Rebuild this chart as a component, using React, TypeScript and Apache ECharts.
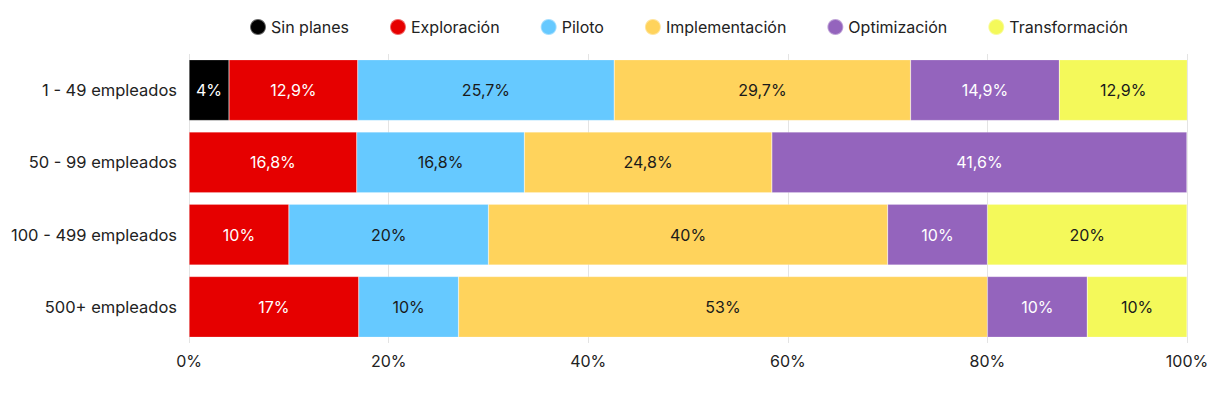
import React, { useEffect, useRef } from "react";
import * as echarts from "echarts";

const categories = ["1 - 49 empleados", "50 - 99 empleados", "100 - 499 empleados", "500+ empleados"];
const seriesNames = ["Sin planes", "Exploración", "Piloto", "Implementación", "Optimización", "Transformación"];
const sinPlanes = [4, 0, 0, 0];
const exploracion = [12.9, 16.8, 10, 17];
const piloto = [25.7, 16.8, 20, 10];
const implementacion = [29.7, 24.8, 40, 53];
const optimizacion = [14.9, 41.6, 10, 10];
const transformacion = [12.9, 0, 20, 10];
const xTicks = [0, 20, 40, 60, 80, 100];

const colors = ["#000000", "#e60000", "#66c9ff", "#ffd35c", "#9464bd", "#f4f95a"];
const labelColors = ["#ffffff", "#ffffff", "#1a1a1a", "#1a1a1a", "#ffffff", "#1a1a1a"];
const FONT = "Inter, 'Noto Sans', sans-serif";

export default function App() {
  const ref = useRef<HTMLDivElement>(null);
  useEffect(() => {
    if (!ref.current) return;
    const chart = echarts.init(ref.current, null, { renderer: "svg" });
    const values = [sinPlanes, exploracion, piloto, implementacion, optimizacion, transformacion];
    chart.setOption({
      animation: false,
      textStyle: { fontFamily: FONT },
      legend: {
        top: 5,
        left: 236,
        icon: "circle",
        itemWidth: 16,
        itemHeight: 16,
        itemGap: 40,
        textStyle: { fontSize: 16, color: "#222", fontFamily: FONT },
        data: seriesNames,
      },
      grid: { left: 179, right: 31, top: 46, bottom: 42, containLabel: false },
      xAxis: {
        type: "value",
        min: 0,
        max: 100,
        interval: 20,
        axisLabel: {
          formatter: (v: number) => (xTicks.includes(v) ? v + "%" : ""),
          fontSize: 16,
          color: "#222",
          margin: 10,
          fontFamily: FONT,
        },
        splitLine: { show: true, lineStyle: { color: "#e4e4e4", width: 1 } },
        axisLine: { show: false },
        axisTick: { show: false },
      },
      yAxis: {
        type: "category",
        inverse: true,
        data: categories,
        axisLabel: { fontSize: 16.5, color: "#222", margin: 12, fontFamily: FONT },
        axisLine: { show: false },
        axisTick: { show: false },
      },
      series: seriesNames.map((name, i) => ({
        name,
        type: "bar",
        stack: "total",
        barWidth: "84%",
        data: values[i],
        itemStyle: { color: colors[i], borderColor: "rgba(255,255,255,0.4)", borderWidth: 0.5 },
        label: {
          show: true,
          position: "inside",
          color: labelColors[i],
          fontSize: 16,
          fontFamily: FONT,
          formatter: (p: any) => (p.value ? String(p.value).replace(".", ",") + "%" : ""),
        },
      })),
    });
    return () => chart.dispose();
  }, []);
  return <div ref={ref} style={{ width: 1210, height: 377 }} />;
}
